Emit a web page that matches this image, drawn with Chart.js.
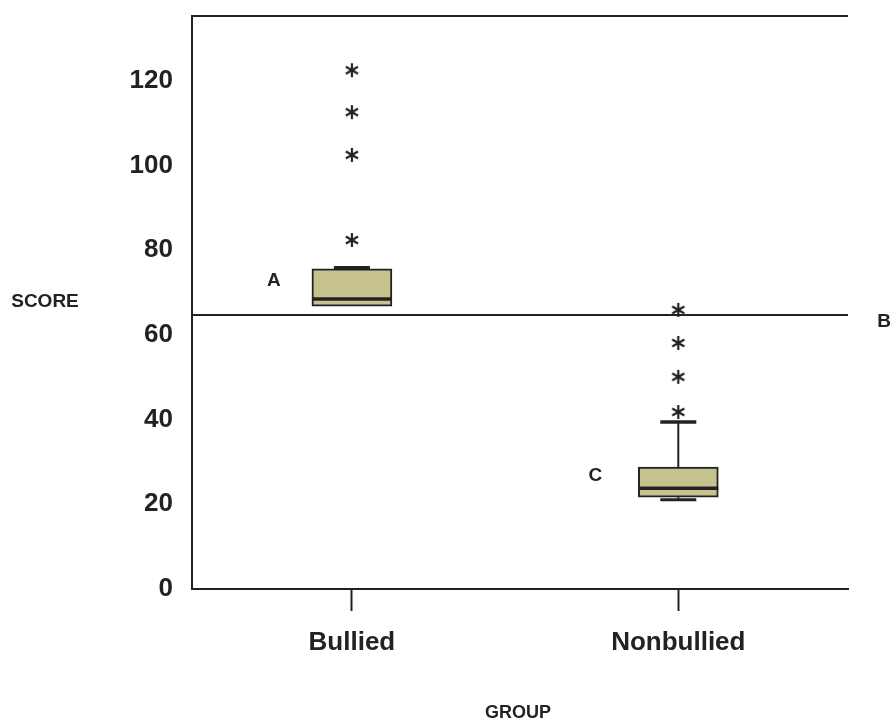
<!DOCTYPE html>
<html>
<head>
<meta charset="utf-8">
<script src="https://cdn.jsdelivr.net/npm/chart.js@4.4.1/dist/chart.umd.min.js"></script>
<style>
    body { margin: 0; background: #fff; }
    #wrap { width: 891px; height: 722px; position: relative; }
</style>
</head>
<body>
<div id="wrap"><canvas id="box-chart"></canvas></div>
<script>
// Box plot data
const groups = ['Bullied', 'Nonbullied'];
const groupPos = [1, 2];
const q1 = [66.8, 21.7];
const median = [68.5, 23.8];
const q3 = [75.6, 28.8];
const whiskerLow = [null, 21.3];   // no lower cap drawn for Bullied
const whiskerHigh = [75.6, 39.2];
const outliersBullied = [82.4, 102.5, 112.6, 122.5];
const outliersNonbullied = [41.8, 50.1, 58.1, 65.9];
const cutoff = 64.7;
const yTicks = [0, 20, 40, 60, 80, 100, 120];

const ink = '#222';
const boxFill = '#c6c28e';

// asterisk marker for outliers
function makeAsterisk() {
    const c = document.createElement('canvas');
    c.width = 18; c.height = 18;
    const g = c.getContext('2d');
    g.strokeStyle = ink;
    g.lineWidth = 2.2;
    [90, 30, 150].forEach(a => {
        const r = a * Math.PI / 180;
        g.beginPath();
        g.moveTo(9 - 7 * Math.cos(r), 9 - 7 * Math.sin(r));
        g.lineTo(9 + 7 * Math.cos(r), 9 + 7 * Math.sin(r));
        g.stroke();
    });
    return c;
}
const star = makeAsterisk();

const outlierPoints = [
    ...outliersBullied.map(v => ({ x: groupPos[0], y: v })),
    ...outliersNonbullied.map(v => ({ x: groupPos[1], y: v }))
];

// whiskers, medians, reference line and free labels
const boxExtras = {
    id: 'boxExtras',
    beforeDatasetsDraw(chart) {
        const { ctx, chartArea } = chart;
        const x = chart.scales.x, y = chart.scales.y;
        ctx.save();
        ctx.strokeStyle = ink;
        // top frame line
        ctx.lineWidth = 2;
        ctx.beginPath();
        ctx.moveTo(chartArea.left, chartArea.top);
        ctx.lineTo(chartArea.right, chartArea.top);
        ctx.stroke();
        // cutoff line B
        const yc = y.getPixelForValue(cutoff);
        ctx.beginPath();
        ctx.moveTo(chartArea.left, yc);
        ctx.lineTo(chartArea.right, yc);
        ctx.stroke();
        // whiskers
        groupPos.forEach((g, i) => {
            const cx = x.getPixelForValue(g);
            if (whiskerHigh[i] !== null) {
                const yh = y.getPixelForValue(whiskerHigh[i]);
                ctx.lineWidth = 2;
                ctx.beginPath();
                ctx.moveTo(cx, y.getPixelForValue(q3[i]));
                ctx.lineTo(cx, yh);
                ctx.stroke();
                ctx.lineWidth = 3.5;
                ctx.beginPath();
                ctx.moveTo(cx - 18, yh - 1); ctx.lineTo(cx + 18, yh - 1);
                ctx.stroke();
            }
            if (whiskerLow[i] !== null) {
                const yl = y.getPixelForValue(whiskerLow[i]);
                ctx.lineWidth = 2;
                ctx.beginPath();
                ctx.moveTo(cx, y.getPixelForValue(q1[i]));
                ctx.lineTo(cx, yl);
                ctx.stroke();
                ctx.lineWidth = 3;
                ctx.beginPath();
                ctx.moveTo(cx - 18, yl + 1); ctx.lineTo(cx + 18, yl + 1);
                ctx.stroke();
            }
        });
        ctx.restore();
    },
    afterDatasetsDraw(chart) {
        const { ctx, chartArea } = chart;
        const x = chart.scales.x, y = chart.scales.y;
        ctx.save();
        ctx.strokeStyle = ink;
        ctx.lineWidth = 3.5;
        groupPos.forEach((g, i) => {
            const cx = x.getPixelForValue(g);
            const ym = y.getPixelForValue(median[i]);
            ctx.beginPath();
            ctx.moveTo(cx - 40, ym);
            ctx.lineTo(cx + 40, ym);
            ctx.stroke();
        });
        ctx.fillStyle = ink;
        ctx.font = 'bold 19px "Liberation Sans", Arial, sans-serif';
        ctx.textAlign = 'center';
        ctx.textBaseline = 'middle';
        ctx.fillText('A', x.getPixelForValue(groupPos[0]) - 78, y.getPixelForValue(72.7));
        ctx.fillText('C', x.getPixelForValue(groupPos[1]) - 83, y.getPixelForValue(26.7));
        ctx.fillText('B', chartArea.right + 36, y.getPixelForValue(cutoff) + 7);
        ctx.fillText('SCORE', 45, 302);
        ctx.font = 'bold 18px "Liberation Sans", Arial, sans-serif';
        ctx.fillText('GROUP', (chartArea.left + chartArea.right) / 2 - 2, 713);
        ctx.restore();
    }
};

new Chart(document.getElementById('box-chart'), {
    type: 'bar',
    data: {
        datasets: [{
            type: 'bar',
            data: groupPos.map((g, i) => ({ x: g, y: [q1[i], q3[i]] })),
            backgroundColor: boxFill,
            borderColor: ink,
            borderWidth: 2,
            borderSkipped: false,
            barThickness: 80,
            order: 2
        }, {
            type: 'scatter',
            data: outlierPoints,
            pointStyle: star,
            pointRadius: 7,
            order: 1
        }]
    },
    options: {
        responsive: true,
        maintainAspectRatio: false,
        animation: false,
        layout: { padding: { left: 0, top: 16, right: 43, bottom: 0 } },
        plugins: {
            legend: { display: false },
            tooltip: { enabled: false }
        },
        scales: {
            x: {
                type: 'linear',
                min: 0.51,
                max: 2.52,
                offset: false,
                afterBuildTicks: s => { s.ticks = groupPos.map(v => ({ value: v })); },
                afterFit: s => { s.height = 133; s.paddingLeft = 0; s.paddingRight = 0; },
                grid: {
                    offset: false,
                    drawOnChartArea: false,
                    drawTicks: true,
                    tickLength: 22,
                    tickWidth: 2,
                    color: ink
                },
                border: { display: true, color: ink, width: 2 },
                ticks: {
                    color: ink,
                    padding: 16,
                    font: { family: '"Liberation Sans", Arial, sans-serif', size: 26, weight: 'bold' },
                    callback: v => groups[groupPos.indexOf(v)]
                }
            },
            y: {
                min: 0,
                max: 135.3,
                afterBuildTicks: s => { s.ticks = yTicks.map(v => ({ value: v })); },
                afterFit: s => { s.width = 192; s.paddingTop = 0; s.paddingBottom = 0; },
                grid: { display: false, drawTicks: false },
                border: { display: true, color: ink, width: 2 },
                ticks: {
                    color: ink,
                    padding: 19,
                    font: { family: '"Liberation Sans", Arial, sans-serif', size: 26, weight: 'bold' }
                }
            }
        }
    },
    plugins: [boxExtras]
});
</script>
</body>
</html>
